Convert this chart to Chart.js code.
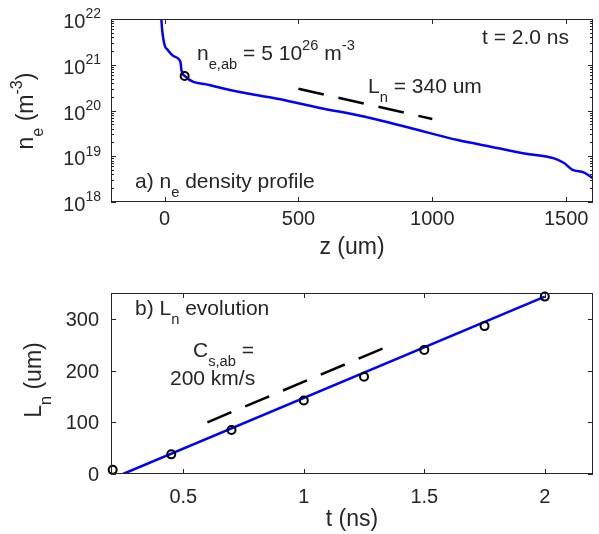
<!DOCTYPE html>
<html>
<head>
<meta charset="utf-8">
<script src="https://cdn.jsdelivr.net/npm/chart.js@4"></script>
<style>
  html, body { margin: 0; padding: 0; background: #fff; }
  #wrap { position: relative; width: 599px; height: 534px; }
  canvas { position: absolute; left: 0; }
</style>
</head>
<body>
<div id="wrap">
  <canvas id="profileChart" width="599" height="265" style="top:0"></canvas>
  <canvas id="lnChart" width="599" height="269" style="top:265px"></canvas>
</div>
<script>
// a) densité électronique n_e(z) à t = 2.0 ns
const zProfile = [-12, -9, 0, 12, 30, 56, 60, 63, 75, 167, 305, 427, 576, 749, 921, 1095, 1218, 1344, 1455, 1492, 1522, 1567, 1600];
const neProfile = [1e22, 5.75e21, 2.7e21, 2.1e21, 1.6e21, 1.26e21, 1.1e21, 7.7e20, 5.7e20, 3.6e20, 2.38e20, 1.78e20,
                   1.15e20, 7.3e19, 4.1e19, 2.26e19, 1.62e19, 1.15e19, 9e18, 7.1e18, 5.1e18, 4.4e18, 3.3e18];
const zAb = [75];
const neAb = [5.7e20];
const zFit = [500, 1000];
const neFit = [3.0e20, 6.5e19];

// b) évolution de L_n
const tPoints = [0.207, 0.45, 0.7, 1.0, 1.25, 1.5, 1.75, 2.0];
const lnPoints = [8, 38, 85, 142, 188, 240, 286, 343];
const tFitLine = [0.25, 2.0];
const lnFitLine = [0, 343];
const tCs = [0.6, 1.35];
const lnCs = [100, 247];

// graduations
const zTicks = [0, 500, 1000, 1500];
const zTickLabels = ['0', '500', '1000', '1500'];
const neExponents = [18, 19, 20, 21, 22];
const tTicks = [0.5, 1, 1.5, 2];
const tTickLabels = ['0.5', '1', '1.5', '2'];
const lnTicks = [0, 100, 200, 300];
const lnTickLabels = ['0', '100', '200', '300'];

const AXIS = '#262626';
const FONT = '"Liberation Sans", Arial, Helvetica, sans-serif';
const BLUE = '#0000ff';

function setFont(ctx, size) { ctx.font = size + 'px ' + FONT; }

// texte avec indices (1) et exposants (2), à la TeX
function richWidth(ctx, parts, size) {
    let w = 0;
    parts.forEach(([t, k]) => { setFont(ctx, k ? size * 0.7 : size); w += ctx.measureText(t).width; });
    return w;
}
function drawRich(ctx, parts, x, y, size, align) {
    const w = richWidth(ctx, parts, size);
    let cx = align === 'center' ? x - w / 2 : align === 'right' ? x - w : x;
    ctx.textAlign = 'left';
    ctx.textBaseline = 'alphabetic';
    parts.forEach(([t, k]) => {
        setFont(ctx, k ? size * 0.7 : size);
        const dy = k === 1 ? size * 0.42 : k === 2 ? -size * 0.48 : 0;
        ctx.fillText(t, cx, y + dy);
        cx += ctx.measureText(t).width;
    });
}

const pts = (xs, ys) => xs.map((v, i) => ({ x: v, y: ys[i] }));

// boîte, graduations intérieures et textes façon MATLAB
function makeAxesPlugin(spec) {
    return {
        id: 'matlabAxes',
        afterDatasetsDraw(chart) {
            const { ctx, chartArea: a, scales: { x, y } } = chart;
            ctx.save();
            ctx.strokeStyle = AXIS;
            ctx.fillStyle = AXIS;
            ctx.lineWidth = 1;
            ctx.beginPath();
            spec.xTicks.forEach(v => {
                const px = Math.round(x.getPixelForValue(v)) + 0.5;
                ctx.moveTo(px, a.bottom); ctx.lineTo(px, a.bottom - 5);
                ctx.moveTo(px, a.top); ctx.lineTo(px, a.top + 5);
            });
            spec.yTicks.forEach(v => {
                const py = Math.round(y.getPixelForValue(v)) + 0.5;
                ctx.moveTo(a.left, py); ctx.lineTo(a.left + 5, py);
                ctx.moveTo(a.right, py); ctx.lineTo(a.right - 5, py);
            });
            (spec.yMinor || []).forEach(v => {
                const py = Math.round(y.getPixelForValue(v)) + 0.5;
                ctx.moveTo(a.left, py); ctx.lineTo(a.left + 3, py);
                ctx.moveTo(a.right, py); ctx.lineTo(a.right - 3, py);
            });
            ctx.stroke();
            ctx.strokeRect(Math.round(a.left) + 0.5, Math.round(a.top) + 0.5,
                           Math.round(a.right - a.left) - 1, Math.round(a.bottom - a.top) - 1);

            // étiquettes des graduations
            setFont(ctx, 20);
            ctx.textAlign = 'center';
            ctx.textBaseline = 'alphabetic';
            spec.xTicks.forEach((v, i) => {
                ctx.fillText(spec.xLabels[i], x.getPixelForValue(v), a.bottom + spec.xLabelDy);
            });
            spec.yTicks.forEach((v, i) => {
                const py = y.getPixelForValue(v);
                drawRich(ctx, spec.yLabels[i], spec.yLabelRight, py + spec.yLabelDy, 20, 'right');
            });

            // titres des axes
            drawRich(ctx, spec.xTitle, (a.left + a.right) / 2, a.bottom + 52, 23, 'center');
            ctx.save();
            ctx.translate(spec.yTitleX, spec.yTitleY);
            ctx.rotate(-Math.PI / 2);
            drawRich(ctx, spec.yTitle, 0, 0, 23, 'center');
            ctx.restore();

            // annotations
            spec.notes.forEach(n => drawRich(ctx, n.parts, n.x, n.y, 21, 'left'));
            ctx.restore();
        }
    };
}

const yMinorTop = [];
for (let e = 18; e < 22; e++) for (let k = 2; k <= 9; k++) yMinorTop.push(k * Math.pow(10, e));

const hiddenScales = (xmin, xmax, ytype, ymin, ymax) => ({
    x: { type: 'linear', min: xmin, max: xmax, display: false },
    y: { type: ytype, min: ymin, max: ymax, display: false }
});

new Chart(document.getElementById('profileChart'), {
    type: 'line',
    data: {
        datasets: [{
            data: pts(zAb, neAb),
            showLine: false,
            pointRadius: 4,
            pointBorderWidth: 2,
            pointBorderColor: '#000',
            pointBackgroundColor: 'rgba(0,0,0,0)'
        }, {
            data: pts(zFit, neFit),
            borderColor: '#000',
            borderWidth: 2.5,
            borderDash: [26, 15],
            pointRadius: 0
        }, {
            data: pts(zProfile, neProfile),
            borderColor: BLUE,
            borderWidth: 2.5,
            pointRadius: 0,
            cubicInterpolationMode: 'monotone'
        }]
    },
    options: {
        responsive: false,
        animation: false,
        layout: { padding: { left: 111, right: 3, top: 19, bottom: 63 } },
        scales: hiddenScales(-200, 1600, 'logarithmic', 1e18, 1e22),
        plugins: { legend: { display: false }, tooltip: { enabled: false } }
    },
    plugins: [makeAxesPlugin({
        xTicks: zTicks, xLabels: zTickLabels, xLabelDy: 23,
        yTicks: neExponents.map(e => Math.pow(10, e)),
        yLabels: neExponents.map(e => [['10', 0], [String(e), 2]]),
        yLabelRight: 101, yLabelDy: 9,
        yMinor: yMinorTop,
        xTitle: [['z (um)', 0]],
        yTitle: [['n', 0], ['e', 1], [' (m', 0], ['-3', 2], [')', 0]],
        yTitleX: 33, yTitleY: 111,
        notes: [
            { x: 197, y: 60, parts: [['n', 0], ['e,ab', 1], [' = 5 10', 0], ['26', 2], [' m', 0], ['-3', 2]] },
            { x: 482, y: 44, parts: [['t = 2.0 ns', 0]] },
            { x: 368, y: 93, parts: [['L', 0], ['n', 1], [' = 340 um', 0]] },
            { x: 135, y: 188, parts: [['a) n', 0], ['e', 1], [' density profile', 0]] }
        ]
    })]
});

new Chart(document.getElementById('lnChart'), {
    type: 'line',
    data: {
        datasets: [{
            data: pts(tPoints, lnPoints),
            showLine: false,
            clip: false,
            pointRadius: 4,
            pointBorderWidth: 2,
            pointBorderColor: '#000',
            pointBackgroundColor: 'rgba(0,0,0,0)'
        }, {
            data: pts(tCs, lnCs),
            borderColor: '#000',
            borderWidth: 2.5,
            borderDash: [26, 15],
            pointRadius: 0
        }, {
            data: pts(tFitLine, lnFitLine),
            borderColor: BLUE,
            borderWidth: 2.5,
            pointRadius: 0
        }]
    },
    options: {
        responsive: false,
        animation: false,
        layout: { padding: { left: 111, right: 3, top: 28, bottom: 60 } },
        scales: hiddenScales(0.2, 2.2, 'linear', 0, 350),
        plugins: { legend: { display: false }, tooltip: { enabled: false } }
    },
    plugins: [makeAxesPlugin({
        xTicks: tTicks, xLabels: tTickLabels, xLabelDy: 29,
        yTicks: lnTicks,
        yLabels: lnTickLabels.map(s => [[s, 0]]),
        yLabelRight: 99, yLabelDy: 7,
        xTitle: [['t (ns)', 0]],
        yTitle: [['L', 0], ['n', 1], [' (um)', 0]],
        yTitleX: 41, yTitleY: 115,
        notes: [
            { x: 135, y: 50, parts: [['b) L', 0], ['n', 1], [' evolution', 0]] },
            { x: 193, y: 92, parts: [['C', 0], ['s,ab', 1], [' =', 0]] },
            { x: 170, y: 120, parts: [['200 km/s', 0]] }
        ]
    })]
});
</script>
</body>
</html>
